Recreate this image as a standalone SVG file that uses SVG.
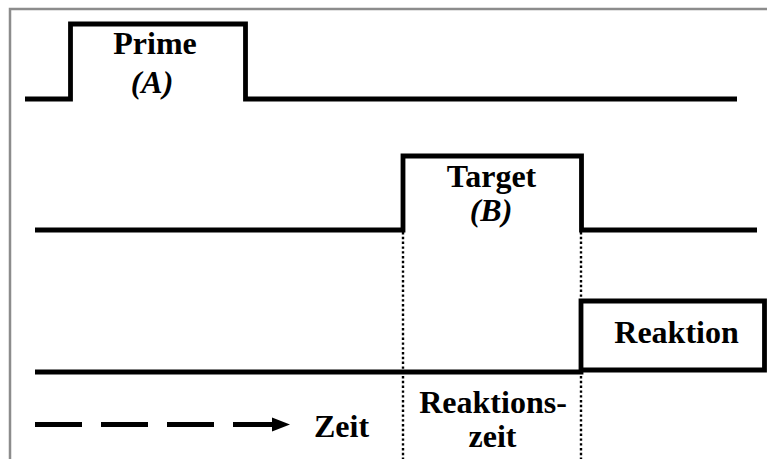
<svg xmlns="http://www.w3.org/2000/svg" width="767" height="459" viewBox="0 0 767 459">
<style>
.sig{fill:none;stroke:#000;stroke-width:4.8;stroke-linejoin:miter;stroke-linecap:butt}
.dot{fill:none;stroke:#000;stroke-width:2.4;stroke-dasharray:2.4 2.4}
.t{font-family:"Liberation Serif","Times New Roman",serif;font-weight:bold;font-size:32px;text-anchor:middle;fill:#000}
.i{font-style:italic}
</style>
<rect width="767" height="459" fill="#fff"/>
<path d="M10,459 V9 H767" fill="none" stroke="#8c8c8c" stroke-width="2.5"/>
<g id="connectors">
<line class="dot" x1="403" y1="232" x2="403" y2="459"/>
<line class="dot" x1="581" y1="232" x2="581" y2="459"/>
<path d="M35,424.5 H273" fill="none" stroke="#000" stroke-width="5" stroke-dasharray="47 19"/>
<path d="M233,424.5 H274" fill="none" stroke="#000" stroke-width="5"/>
<path d="M272,417.5 L290,424.5 L272,431.5 Z" fill="#000"/>
</g>
<g id="prime">
<path class="sig" d="M25,99 H70.5 V24 H245.5 V99 H737"/>
<text class="t" x="155" y="54">Prime</text>
<text class="t i" x="152" y="93">(A)</text>
</g>
<g id="target">
<path class="sig" d="M35,230 H403 V156 H581.5 V230 H757"/>
<text class="t" x="491.5" y="187">Target</text>
<text class="t i" x="491" y="221">(B)</text>
</g>
<g id="reaktion">
<path class="sig" d="M35,372 H581 V301 H764.5 V370 H581"/>
<text class="t" x="676.5" y="343">Reaktion</text>
</g>
<g id="zeit">
<text class="t" x="341.5" y="437">Zeit</text>
</g>
<g id="reaktionszeit">
<text class="t" x="493" y="413">Reaktions-</text>
<text class="t" x="492.5" y="447">zeit</text>
</g>
</svg>
